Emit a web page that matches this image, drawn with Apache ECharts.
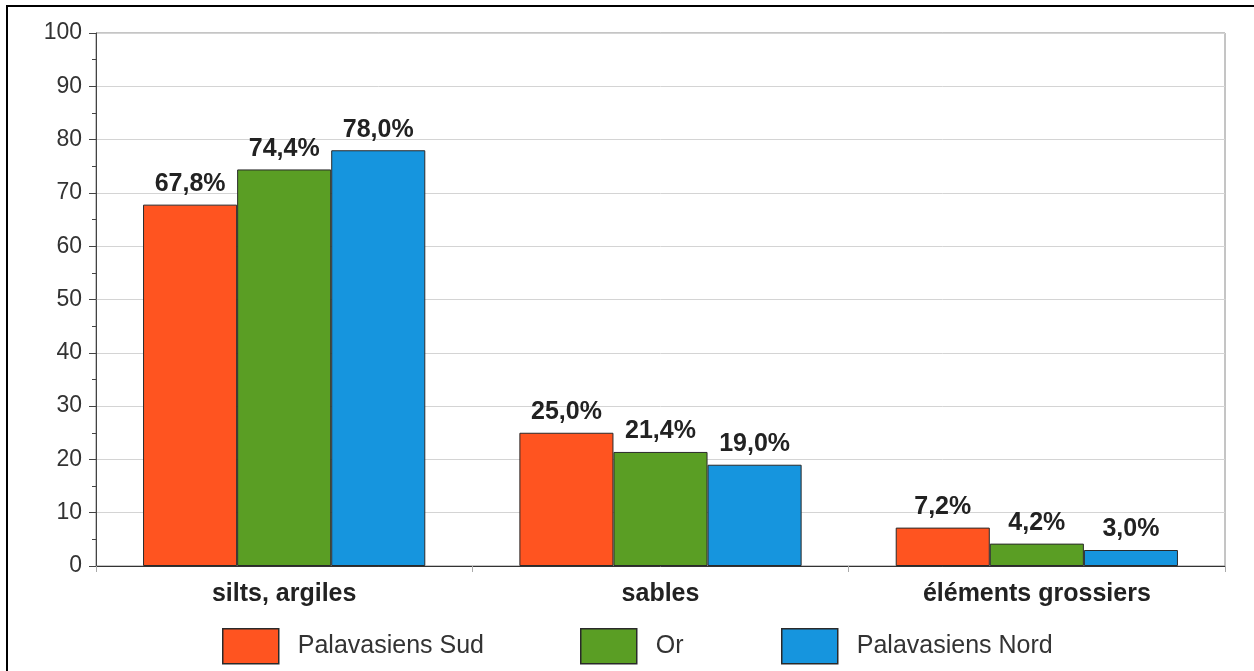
<!DOCTYPE html>
<html>
<head>
<meta charset="utf-8">
<script src="https://cdn.jsdelivr.net/npm/echarts@6/dist/echarts.min.js"></script>
<style>
  html, body { margin: 0; padding: 0; background: #fff; }
  #chart { width: 1254px; height: 671px; }
</style>
</head>
<body>
<div id="chart"></div>
<script>
// Granulométrie : part de chaque fraction (%) par secteur
const categories = ['silts, argiles', 'sables', 'éléments grossiers'];
const seriesNames = ['Palavasiens Sud', 'Or', 'Palavasiens Nord'];
const palavasiensSud = [67.8, 25.0, 7.2];
const orValues = [74.4, 21.4, 4.2];
const palavasiensNord = [78.0, 19.0, 3.0];
const yTicks = { min: 0, max: 100, interval: 10 };

const colors = ['#ff5420', '#5a9e24', '#1695de'];
const FONT = '"Liberation Sans", Arial, sans-serif';

const chart = echarts.init(document.getElementById('chart'), null, { renderer: 'canvas' });

const valueLabel = {
  show: true,
  position: 'top',
  distance: 8,
  fontFamily: FONT,
  fontSize: 25,
  fontWeight: 'bold',
  color: '#222',
  formatter: p => p.value.toFixed(1).replace('.', ',') + '%'
};

function makeSeries(name, data, color) {
  return {
    name: name,
    type: 'bar',
    data: data,
    barGap: '0%',
    barCategoryGap: '25%',
    itemStyle: { color: color, borderColor: '#2a2a2a', borderWidth: 1 },
    label: valueLabel,
    emphasis: { disabled: true }
  };
}

function makeLegend(name, left) {
  return {
    data: [name],
    left: left,
    top: 628,
    padding: 0,
    itemWidth: 56,
    itemHeight: 35,
    itemGap: 0,
    icon: 'rect',
    itemStyle: { borderColor: '#2a2a2a', borderWidth: 1.5 },
    textStyle: { fontFamily: FONT, fontSize: 25, color: '#333', padding: [0, 0, 0, 14] },
    selectedMode: false
  };
}

chart.setOption({
  animation: false,
  backgroundColor: '#fff',
  grid: {
    left: 96, right: 29, top: 33, bottom: 105,
    show: true, borderColor: '#8a8a8a', borderWidth: 1
  },
  legend: [
    makeLegend(seriesNames[0], 222),
    makeLegend(seriesNames[1], 580),
    makeLegend(seriesNames[2], 781)
  ],
  xAxis: {
    type: 'category',
    data: categories,
    axisLine: { lineStyle: { color: '#333', width: 1 } },
    axisTick: { show: true, length: 6, lineStyle: { color: '#aaa' } },
    axisLabel: {
      fontFamily: FONT, fontSize: 25, fontWeight: 'bold', color: '#222', margin: 16
    }
  },
  yAxis: {
    type: 'value',
    min: yTicks.min, max: yTicks.max, interval: yTicks.interval,
    axisLine: { show: true, lineStyle: { color: '#444', width: 1 } },
    axisTick: { show: true, length: 7, lineStyle: { color: '#444' } },
    minorTick: { show: true, splitNumber: 2, length: 4, lineStyle: { color: '#444' } },
    splitLine: { show: true, lineStyle: { color: '#d4d4d4', width: 1 } },
    axisLabel: { fontFamily: FONT, fontSize: 23, color: '#333', margin: 14 }
  },
  graphic: [{
    type: 'rect',
    shape: { x: 7, y: 6, width: 1270, height: 700 },
    style: { fill: 'none', stroke: '#000', lineWidth: 2 },
    silent: true,
    z: 100
  }],
  series: [
    makeSeries(seriesNames[0], palavasiensSud, colors[0]),
    makeSeries(seriesNames[1], orValues, colors[1]),
    makeSeries(seriesNames[2], palavasiensNord, colors[2])
  ]
});
</script>
</body>
</html>
